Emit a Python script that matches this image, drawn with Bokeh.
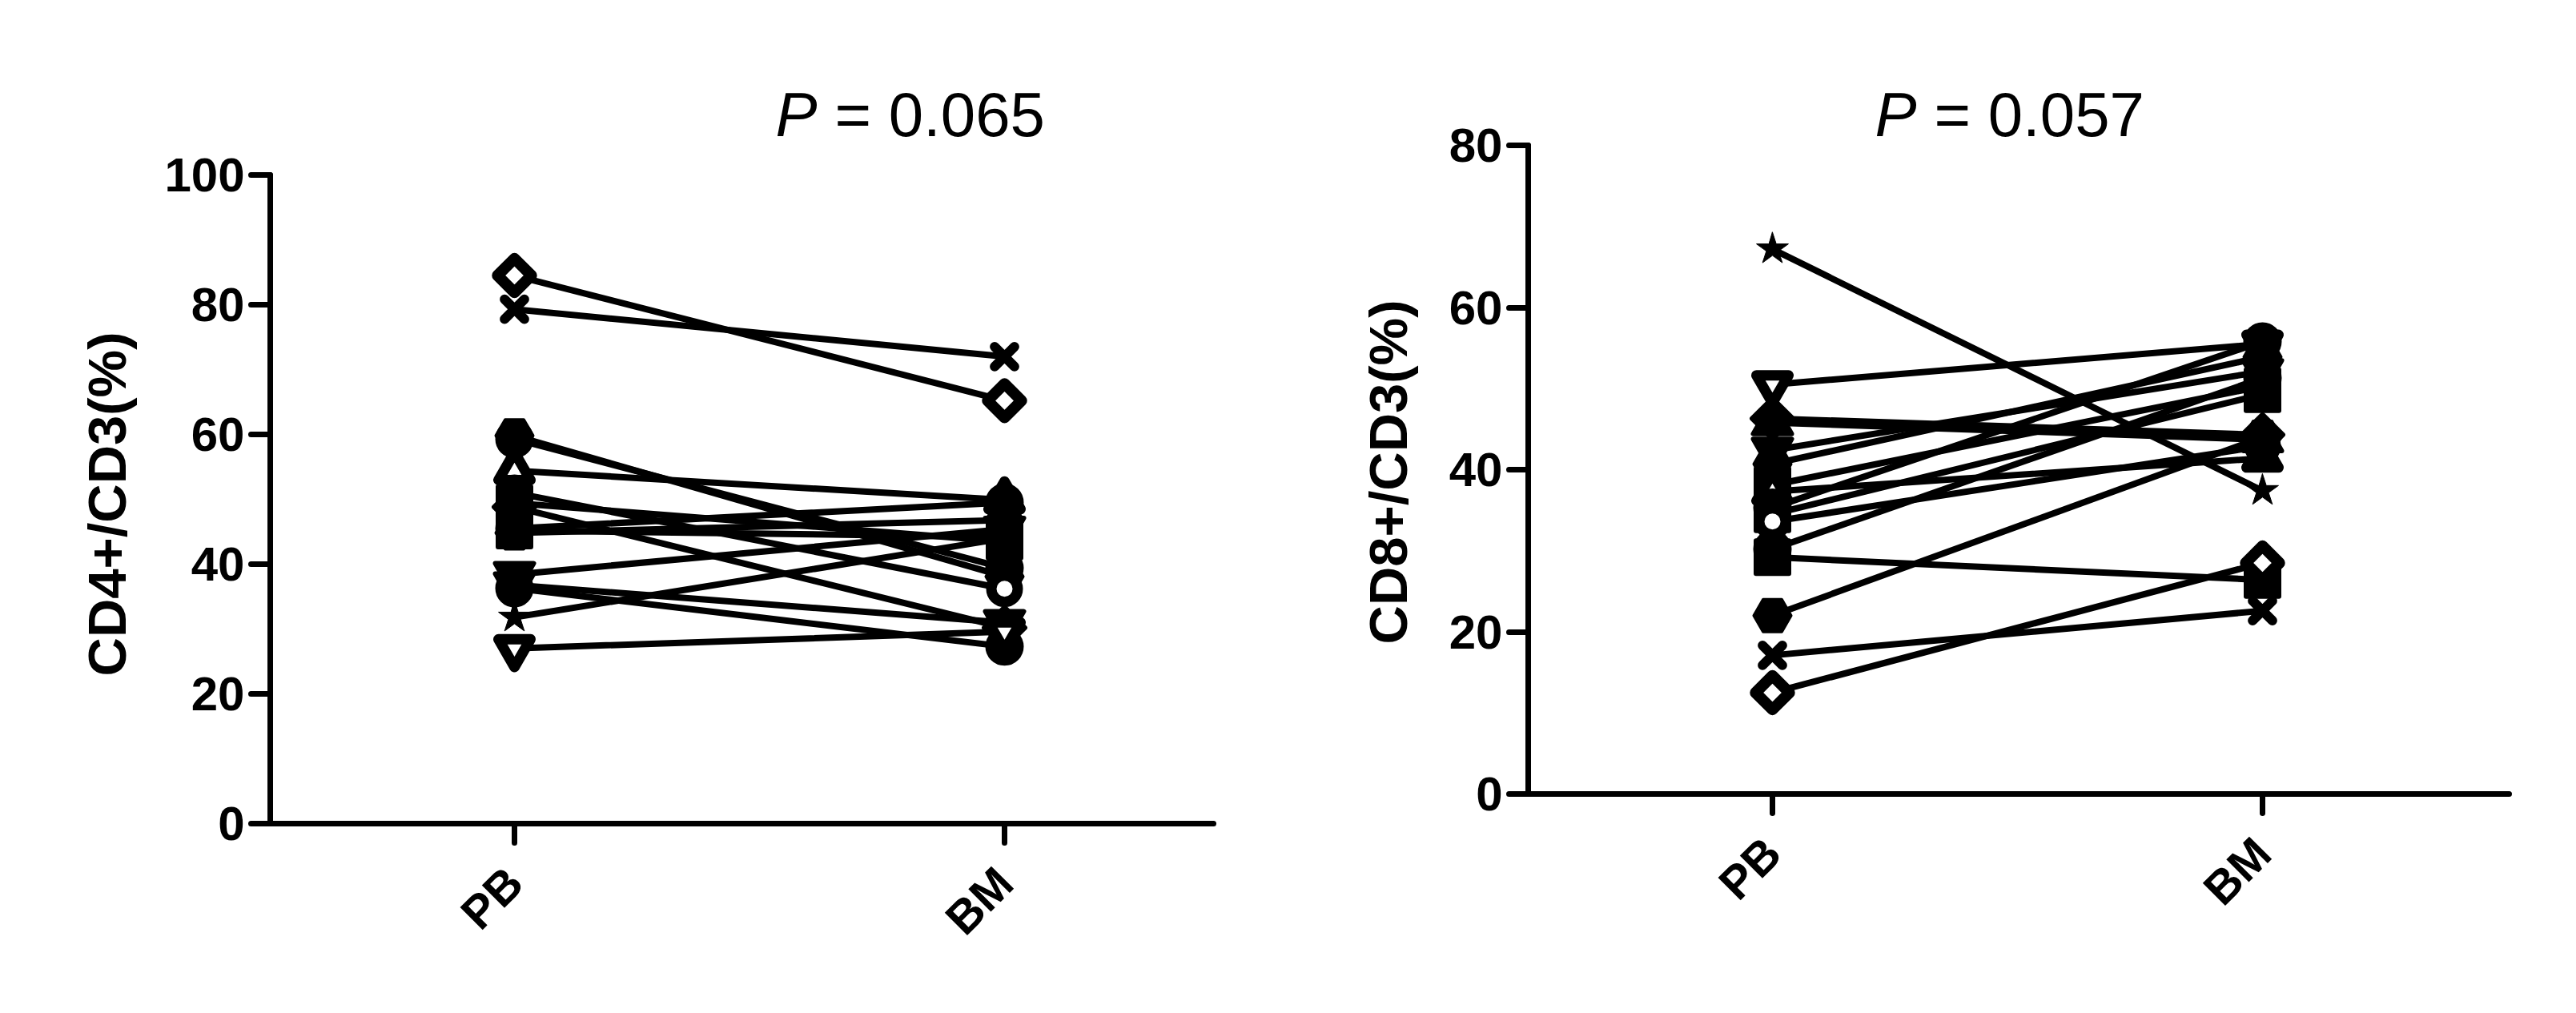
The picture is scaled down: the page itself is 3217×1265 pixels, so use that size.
import math
from bokeh.plotting import figure
from bokeh.models import ColumnDataSource, Label, FixedTicker, Range1d
from bokeh.layouts import row
from bokeh.embed import file_html
from bokeh.resources import INLINE

categories = ["PB", "BM"]

# CD4+/CD3 (%) paired values
cd4_pb = [84.5, 79.3, 59.8, 59.3, 54.4, 51.0, 49.4, 48.8, 45.5, 45.2, 44.8, 38.4, 36.8, 36.3, 31.8, 27.0]
cd4_bm = [65.2, 72.0, 38.1, 39.4, 49.9, 36.2, 43.5, 30.2, 49.5, 44.2, 46.8, 45.4, 31.0, 27.3, 44.0, 29.6]
cd4_markers = ["diamond_open", "x", "hex", "circle", "triangle_open", "circle_open", "square",
               "diamond", "circle", "square", "hex", "inverted_triangle", "inverted_triangle",
               "circle", "star", "inverted_triangle_open"]

# CD8+/CD3 (%) paired values
cd8_pb = [67.2, 50.5, 46.3, 45.8, 42.4, 40.7, 38.1, 37.3, 35.3, 34.5, 33.6, 30.2, 29.2, 22.0, 17.1, 12.5]
cd8_bm = [37.4, 55.5, 44.3, 43.7, 52.1, 53.9, 50.3, 41.4, 55.8, 49.3, 42.9, 51.3, 26.4, 44.0, 22.6, 28.5]
cd8_markers = ["star", "inverted_triangle_open", "diamond", "triangle", "inverted_triangle", "hex",
               "square", "triangle_open", "circle", "square", "circle_open", "circle", "square",
               "hex", "x", "diamond_open"]

p_texts = ["0.065", "0.057"]
y_labels = ["CD4+/CD3(%)", "CD8+/CD3(%)"]
y_max = [100, 80]
y_ticks = [[0, 20, 40, 60, 80, 100], [0, 20, 40, 60, 80]]

# marker style table: (bokeh marker, size, line width, open?, angle)
STYLE = {
    "circle": ("circle", 42, 6, False, 0.0),
    "circle_open": ("circle", 33, 13, True, 0.0),
    "square": ("square", 41, 6, False, 0.0),
    "diamond": ("square", 36, 6, False, math.pi / 4),
    "diamond_open": ("square", 30, 14, True, math.pi / 4),
    "triangle": ("triangle", 48, 6, False, 0.0),
    "triangle_open": ("triangle", 40, 13, True, 0.0),
    "inverted_triangle": ("inverted_triangle", 48, 6, False, 0.0),
    "inverted_triangle_open": ("inverted_triangle", 40, 13, True, 0.0),
    "x": ("x", 35, 12, False, 0.0),
    "star": ("star", 42, 1, False, 0.0),
    "hex": ("hex", 46, 4, False, 0.0),
}

FONT = "Liberation Sans"
PPU_X = 612.0      # pixels per category step
FIG_H = 1249
DX, DY = 4, 10     # calibration shift of the page-pixel targets


def make_panel(pb, bm, mk, ymax, ticks, ylabel, ptext, fig_x, width,
               axis_x_px, pb_px, axis_end_px, axis_top_px, ppu_y,
               title_left_px, ylab_x_px, ylab_y_px):
    fig_y = 8
    axis_x_px += DX; pb_px += DX; axis_end_px += DX; title_left_px += DX; ylab_x_px += DX
    axis_top_px += DY; ylab_y_px += DY
    title_base_px = 150

    x0 = 1 - (pb_px - fig_x) / PPU_X
    x1 = x0 + width / PPU_X
    yend = ymax + (axis_top_px - fig_y) / ppu_y
    ystart = yend - FIG_H / ppu_y

    def dx(px):
        return 1 + (px - pb_px) / PPU_X

    def dy(py):
        return yend - (py - fig_y) / ppu_y

    p = figure(width=width, height=FIG_H, output_backend="svg", toolbar_location=None,
               x_range=Range1d(x0, x1), y_range=Range1d(ystart, yend),
               min_border=0, min_border_left=0, min_border_right=0,
               min_border_top=0, min_border_bottom=0)
    p.title.visible = False
    p.outline_line_color = None
    p.grid.visible = False
    p.background_fill_color = "white"
    p.border_fill_color = "white"

    seg = ColumnDataSource(dict(x0=[1] * len(pb), x1=[2] * len(pb), y0=pb, y1=bm))
    p.segment(x0="x0", y0="y0", x1="x1", y1="y1", source=seg, line_color="black", line_width=8,
              line_cap="round")

    xs, ys, ms, sz, lw, fc, ang = [], [], [], [], [], [], []
    for i in range(len(pb)):
        m, s, w, op, a = STYLE[mk[i]]
        for xv, yv in ((1, pb[i]), (2, bm[i])):
            xs.append(xv); ys.append(yv); ms.append(m); sz.append(s); lw.append(w)
            fc.append("white" if op else "black"); ang.append(a)
    src = ColumnDataSource(dict(x=xs, y=ys, marker=ms, size=sz, lw=lw, fc=fc, angle=ang))
    p.scatter(x="x", y="y", marker="marker", size="size", angle="angle", fill_color="fc",
              line_color="black", line_width="lw", line_join="round", line_cap="round", source=src)

    for ax in (p.xaxis[0], p.yaxis[0]):
        ax.axis_line_width = 7
        ax.axis_line_color = "black"
        ax.axis_line_cap = "round"
        ax.major_tick_line_width = 7
        ax.major_tick_line_cap = "round"
        ax.major_tick_line_color = "black"
        ax.major_tick_out = 24
        ax.major_tick_in = 0
        ax.minor_tick_line_color = None
        ax.major_label_text_font = FONT
        ax.major_label_text_font_style = "bold"
        ax.major_label_text_color = "black"

    ax_x = dx(axis_x_px)
    p.xaxis.fixed_location = 0
    p.xaxis.bounds = (ax_x, dx(axis_end_px))
    p.xaxis.ticker = FixedTicker(ticks=[1, 2])
    p.xaxis.major_label_overrides = {1: categories[0], 2: categories[1]}
    p.xaxis.major_label_orientation = math.pi / 4
    p.xaxis.major_label_standoff = 40
    p.xaxis.major_label_text_font_size = "58px"

    p.yaxis.fixed_location = ax_x
    p.yaxis.bounds = (0, ymax)
    p.yaxis.ticker = FixedTicker(ticks=ticks)
    p.yaxis.major_label_text_font_size = "60px"
    p.yaxis.major_label_standoff = 8

    # y axis title
    p.add_layout(Label(x=dx(ylab_x_px), y=dy(ylab_y_px), text=ylabel, angle=math.pi / 2,
                       text_font=FONT, text_font_style="bold", text_font_size="67px",
                       text_color="black", text_align="center", text_baseline="middle"))

    # title "P = value": italic P plus regular remainder
    tx = dx(title_left_px)
    p.add_layout(Label(x=tx, y=dy(title_base_px), text="P", text_font=FONT,
                       text_font_style="italic", text_font_size="78px", text_color="black",
                       text_align="left", text_baseline="alphabetic"))
    p.add_layout(Label(x=tx + 74 / PPU_X, y=dy(title_base_px), text="= " + ptext, text_font=FONT,
                       text_font_size="78px", text_color="black", text_align="left",
                       text_baseline="alphabetic"))
    return p


p1 = make_panel(cd4_pb, cd4_bm, cd4_markers, y_max[0], y_ticks[0], y_labels[0], p_texts[0],
                fig_x=8, width=1596, axis_x_px=341, pb_px=646, axis_end_px=1519,
                axis_top_px=216, ppu_y=8.1, title_left_px=972, ylab_x_px=137, ylab_y_px=627)
p2 = make_panel(cd8_pb, cd8_bm, cd8_markers, y_max[1], y_ticks[1], y_labels[1], p_texts[1],
                fig_x=8 + 1596, width=1604, axis_x_px=1912, pb_px=2217, axis_end_px=3137,
                axis_top_px=179, ppu_y=10.125, title_left_px=2345, ylab_x_px=1737, ylab_y_px=587)

layout = row(p1, p2)
open("out.html", "w").write(file_html(layout, INLINE))
